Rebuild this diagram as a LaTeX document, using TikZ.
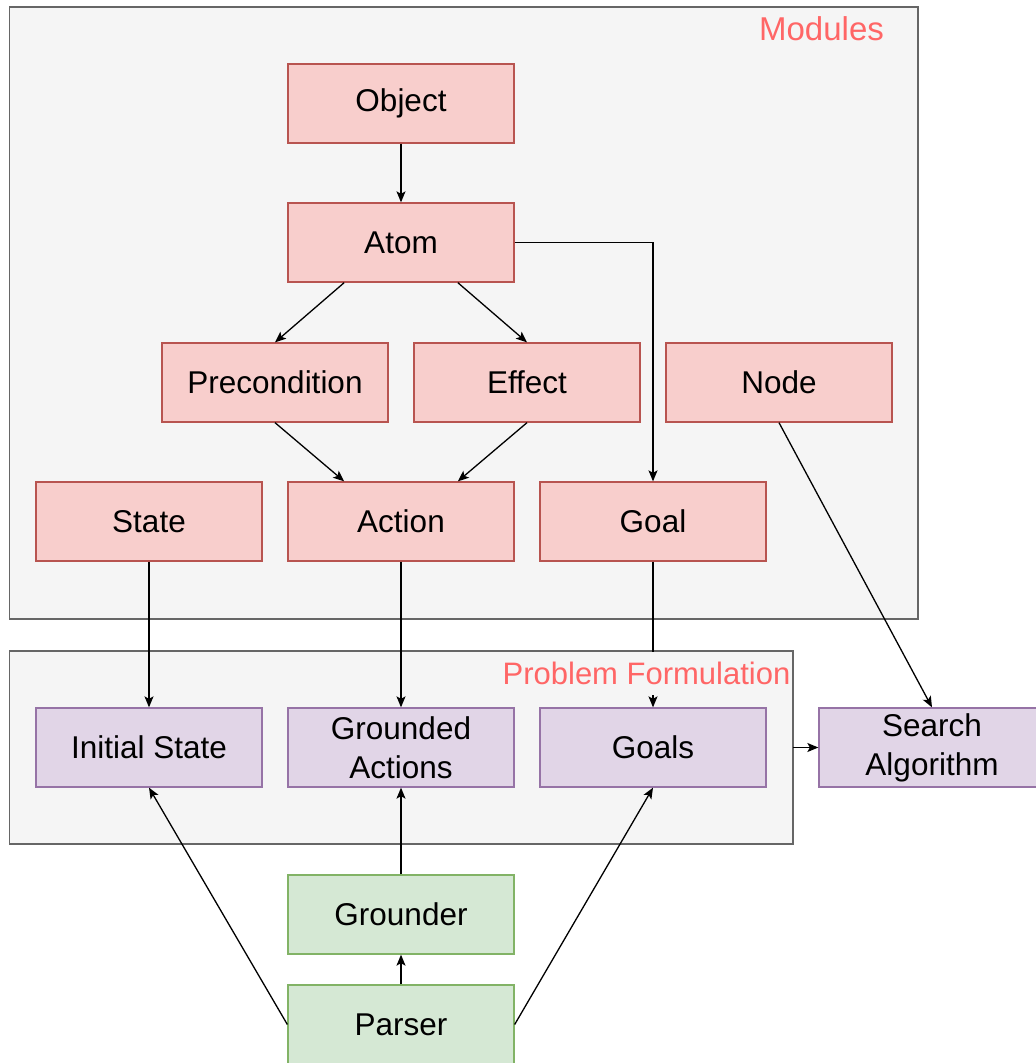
\documentclass[tikz,border=0pt]{standalone}
\usepackage{fontspec}
\setmainfont{Liberation Sans}
\usetikzlibrary{arrows.meta,calc}
\definecolor{grpfill}{HTML}{F5F5F5}
\definecolor{grpline}{HTML}{666666}
\definecolor{redfill}{HTML}{F8CECC}
\definecolor{redline}{HTML}{B85450}
\definecolor{purfill}{HTML}{E1D5E7}
\definecolor{purline}{HTML}{9673A6}
\definecolor{grnfill}{HTML}{D5E8D4}
\definecolor{grnline}{HTML}{82B366}
\definecolor{grplabel}{HTML}{FF6666}

\begin{document}
\begin{tikzpicture}[x=1pt,y=-1pt,
  font=\fontsize{31.5}{39}\selectfont,
  box/.style={rectangle, minimum width=226pt, minimum height=79pt,
    line width=1.3pt, align=center, inner sep=0pt},
  modbox/.style={box, fill=redfill, draw=redline},
  probbox/.style={box, fill=purfill, draw=purline},
  inbox/.style={box, fill=grnfill, draw=grnline},
  group/.style={rectangle, fill=grpfill, draw=grpline, line width=1.5pt,
    inner sep=0pt, outer sep=0pt},
  grouplabel/.style={text=grplabel, inner sep=0pt},
  link/.style={line width=1.3pt, draw=black,
    -{Stealth[length=11pt,width=9pt,inset=2.5pt]}},
]
\useasboundingbox (0,0) rectangle (1036,1063);
\clip (0,0) rectangle (1036,1063);

% group frames
\node[group, minimum width=908.5pt, minimum height=612pt] (modules) at (463.75,313) {};
\node[group, minimum width=783.5pt, minimum height=193pt] (pf) at (401.25,747.5) {};
\node[grouplabel, font=\fontsize{33}{39}\selectfont] (modlabel) at (821.5,28.5) {Modules};

% module blocks
\node[modbox] (object) at (401,103.5) {Object};
\node[modbox] (atom)   at (401,242.5) {Atom};
\node[modbox] (precond) at (275,382.5) {Precondition};
\node[modbox] (effect) at (527,382.5) {Effect};
\node[modbox] (nodeb)  at (779,382.5) {Node};
\node[modbox] (state)  at (149,521.5) {State};
\node[modbox] (action) at (401,521.5) {Action};
\node[modbox] (goal)   at (653,521.5) {Goal};

% problem formulation blocks
\node[probbox] (init)    at (149,747.5) {Initial State};
\node[probbox] (grounded) at (401,747.5) {Grounded\\Actions};
\node[probbox] (goals)   at (653,747.5) {Goals};
\node[probbox] (search)  at (932,747.5) {Search\\Algorithm};

% input pipeline
\node[inbox] (grounder) at (401,914.5) {Grounder};
\node[inbox] (parser)   at (401,1024.5) {Parser};

% connectors
\draw[link] (object) -- (atom);
\draw[link] ($(atom.south)!0.5!(atom.south west)$) -- (precond.north);
\draw[link] ($(atom.south)!0.5!(atom.south east)$) -- (effect.north);
\draw[link] (precond.south) -- ($(action.north)!0.5!(action.north west)$);
\draw[link] (effect.south) -- ($(action.north)!0.5!(action.north east)$);
\draw[link] (atom.east) -| (goal.north);
\draw[link] (nodeb.south) -- (search.north);
\draw[link] (state.south) -- (init.north);
\draw[link] (action.south) -- (grounded.north);
\draw[link] (goal.south) -- (goals.north);
\draw[link] (pf.east) -- (search.west);
\draw[link] (grounder.north) -- (grounded.south);
\draw[link] (parser.north) -- (grounder.south);
\draw[link] (parser.west) -- (init.south);
\draw[link] (parser.east) -- (goals.south);

% frame title drawn over the Goal link
\node[grouplabel, font=\fontsize{31}{39}\selectfont, fill=grpfill,
  inner xsep=0pt, minimum height=43pt] (pflabel)
  at (646.5,673.5) {Problem Formulation};
\end{tikzpicture}
\end{document}
